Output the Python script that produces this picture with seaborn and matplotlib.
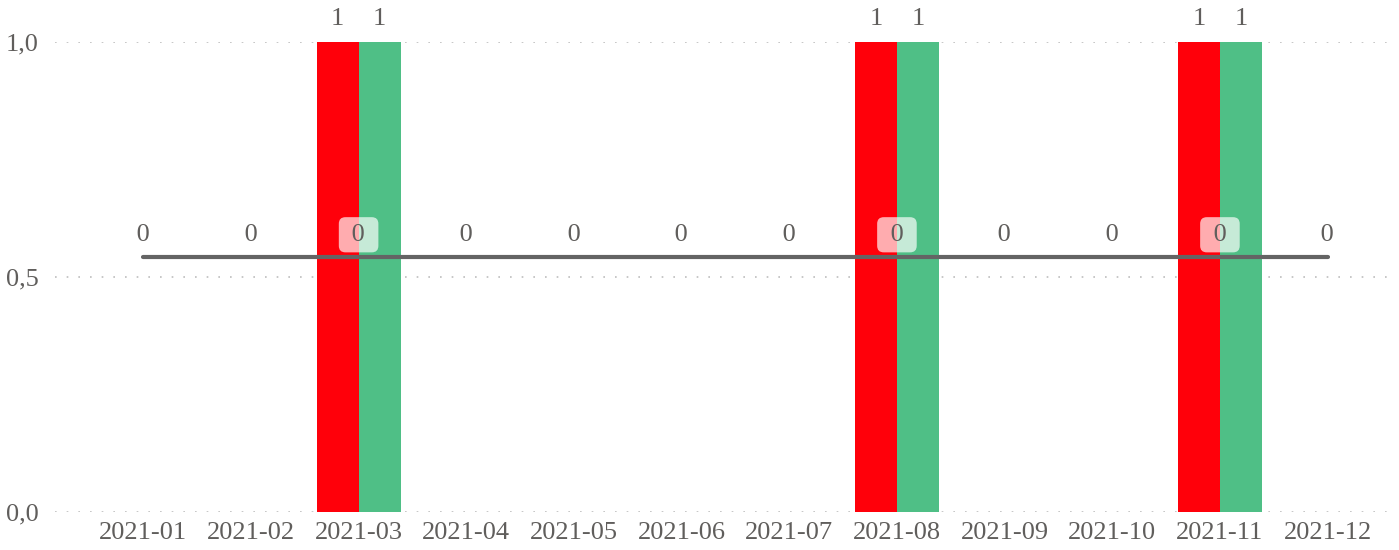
import numpy as np
import pandas as pd
import matplotlib.pyplot as plt
import seaborn as sns

# Chart data
months = ['2021-01', '2021-02', '2021-03', '2021-04', '2021-05', '2021-06',
          '2021-07', '2021-08', '2021-09', '2021-10', '2021-11', '2021-12']
series_red = [0, 0, 1, 0, 0, 0, 0, 1, 0, 0, 1, 0]
series_green = [0, 0, 1, 0, 0, 0, 0, 1, 0, 0, 1, 0]
line_values = [0, 0, 0, 0, 0, 0, 0, 0, 0, 0, 0, 0]
y_ticks = [0.0, 0.5, 1.0]
y_tick_labels = ['0,0', '0,5', '1,0']

text_color = '#605E5C'
red = '#FF000A'
green = '#4FBF86'

sns.set_theme(style='white')
plt.rcParams['font.family'] = ['Liberation Serif', 'DejaVu Serif']

df = pd.DataFrame({
    'Month': months * 2,
    'Value': series_red + series_green,
    'Series': ['A'] * len(months) + ['B'] * len(months),
})

fig = plt.figure(figsize=(13.99, 5.5), dpi=100)
ax = fig.add_axes([0.0393, 0.0691, 0.9543, 0.8545])

sns.barplot(data=df, x='Month', y='Value', hue='Series', order=months,
            palette=[red, green], width=0.78, saturation=1, legend=False,
            linewidth=0, ax=ax)

for cont, vals in zip(ax.containers, [series_red, series_green]):
    ax.bar_label(cont, labels=[str(v) if v else '' for v in vals],
                 padding=9, fontsize=19, color=text_color)

ax.set_ylim(0, 1)
ax.set_xlim(-0.82, 11.58)
ax.set_yticks(y_ticks)
ax.set_yticklabels(y_tick_labels)
ax.set_xlabel('')
ax.set_ylabel('')
ax.tick_params(axis='both', length=0, labelsize=19, labelcolor=text_color)
ax.tick_params(axis='y', pad=12)
ax.tick_params(axis='x', pad=7)
ax.grid(axis='y', color='#BDBDBD', linestyle=(0, (1, 6)), linewidth=1.2)
ax.set_axisbelow(True)
for s in ax.spines.values():
    s.set_visible(False)

# secondary axis for the line
ax2 = ax.twinx()
x_pos = np.arange(len(months))
sns.lineplot(x=x_pos, y=line_values, color='#646464', linewidth=3, ax=ax2)
ax2.set_ylim(-0.5426, 0.4574)
ax2.set_yticks([])
ax2.set_ylabel('')
for s in ax2.spines.values():
    s.set_visible(False)
for xi, v in zip(x_pos, line_values):
    ax2.annotate(f' {v} ', (xi, v), xytext=(0, 16), textcoords='offset points',
                 ha='center', va='center', fontsize=19, color=text_color,
                 bbox=dict(boxstyle='round,pad=0.25', fc='white', ec='none', alpha=0.68))

fig.savefig('out.png', dpi=100)
